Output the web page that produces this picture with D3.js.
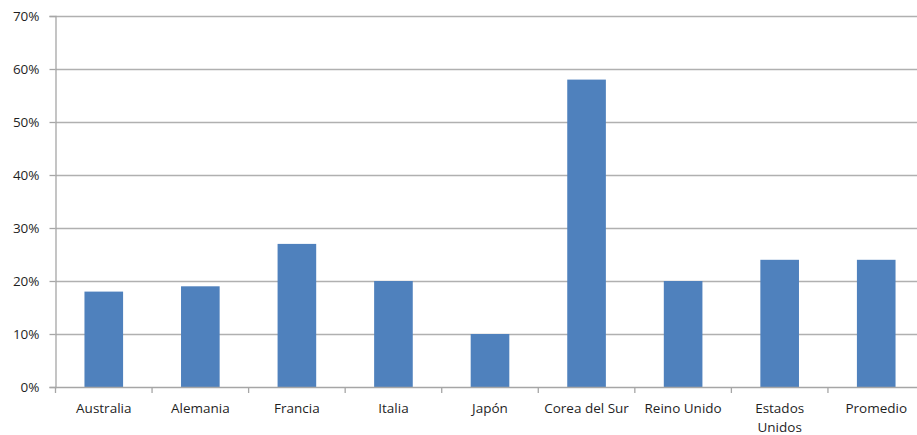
<!DOCTYPE html>
<html>
<head>
<meta charset="utf-8">
<script src="https://cdn.jsdelivr.net/npm/d3@7"></script>
<style>
  html, body { margin: 0; padding: 0; background: #fff; }
  svg { display: block; }
  text { font-family: "Open Sans", Lato, sans-serif; font-size: 13.5px; fill: #1f1f1f; }
</style>
</head>
<body>
<svg id="chart" width="917" height="435"></svg>
<script>
// Share by country
const categories = ["Australia", "Alemania", "Francia", "Italia", "Japón", "Corea del Sur", "Reino Unido", "Estados Unidos", "Promedio"];
const values = [0.18, 0.19, 0.27, 0.20, 0.10, 0.58, 0.20, 0.24, 0.24];
const yTicks = [0, 0.1, 0.2, 0.3, 0.4, 0.5, 0.6, 0.7];

const svg = d3.select("#chart");
const plotLeft = 55.5, plotRight = 924.5, plotTop = 16, plotBottom = 387;

const x = d3.scaleBand().domain(categories).range([plotLeft, plotRight]).paddingInner(0.6).paddingOuter(0.3);
const y = d3.scaleLinear().domain([0, 0.7]).range([plotBottom, plotTop]);

// horizontal gridlines
svg.append("g").selectAll("line").data(yTicks.filter(d => d > 0)).join("line")
  .attr("x1", plotLeft).attr("x2", 917)
  .attr("y1", d => Math.round(y(d)) + 0.5).attr("y2", d => Math.round(y(d)) + 0.5)
  .attr("stroke", "#b0b0b0").attr("stroke-width", 1.3);

// bars
svg.append("g").selectAll("rect").data(categories).join("rect")
  .attr("x", d => x(d))
  .attr("width", x.bandwidth())
  .attr("y", (d, i) => y(values[i]))
  .attr("height", (d, i) => plotBottom - y(values[i]))
  .attr("fill", "#4f81bd");

// y axis
const yAxis = svg.append("g").attr("transform", `translate(${plotLeft},0)`)
  .call(d3.axisLeft(y).tickValues(yTicks).tickFormat(d3.format(".0%")).tickSize(6).tickPadding(10));
yAxis.attr("font-family", null).attr("font-size", null);
yAxis.select(".domain").attr("stroke", "#a6a6a6").attr("stroke-width", 1.3);
yAxis.selectAll(".tick line").attr("stroke", "#a6a6a6").attr("stroke-width", 1.3);
yAxis.selectAll("text").attr("fill", null);

// x axis with category boundary ticks
const xg = svg.append("g");
xg.append("line").attr("x1", plotLeft).attr("x2", 917).attr("y1", plotBottom + 0.5).attr("y2", plotBottom + 0.5)
  .attr("stroke", "#a6a6a6").attr("stroke-width", 1.3);
const bounds = d3.range(categories.length + 1).map(i => plotLeft + i * (plotRight - plotLeft) / categories.length);
xg.selectAll("line.b").data(bounds.filter(b => b <= 917)).join("line").attr("class", "b")
  .attr("x1", d => d).attr("x2", d => d).attr("y1", plotBottom).attr("y2", plotBottom + 6)
  .attr("stroke", "#a6a6a6").attr("stroke-width", 1.3);

// category labels (wrapping long ones)
const wrap = { "Estados Unidos": ["Estados", "Unidos"] };
const labels = xg.selectAll("text.c").data(categories).join("text").attr("class", "c")
  .attr("text-anchor", "middle")
  .attr("x", d => x(d) + x.bandwidth() / 2)
  .attr("y", 413);
labels.each(function(d) {
  const lines = wrap[d] || [d];
  const t = d3.select(this);
  lines.forEach((l, i) => t.append("tspan").attr("x", x(d) + x.bandwidth() / 2).attr("dy", i === 0 ? 0 : 18.5).text(l));
});
</script>
</body>
</html>
